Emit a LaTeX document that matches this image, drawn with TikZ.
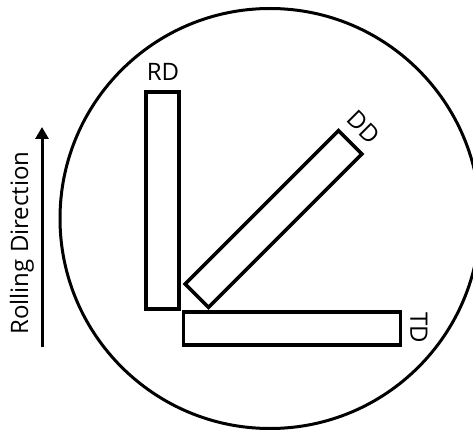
\documentclass[tikz,border=0pt]{standalone}
\usepackage{fontspec}
\setmainfont{Open Sans}
\usetikzlibrary{arrows.meta, positioning}

\begin{document}
\begin{tikzpicture}[
    x=1pt, y=-1pt,
    bar/.style={draw, line width=3.5pt, minimum width=217pt, minimum height=33pt,
                inner sep=0pt},
    lbl/.style={font=\fontsize{24}{28}\selectfont, inner sep=0pt},
    arr/.style={-{Triangle[width=13pt,length=12pt]}, line width=3pt}
]
\useasboundingbox (0,0) rectangle (473,430);
% Sample disc
\node[draw, circle, line width=3pt, minimum size=420pt, inner sep=0pt] (disc) at (270,218.5) {};
% Samples
\node[bar, rotate=90] (rd) at (162.5,200.5) {};
\node[bar, rotate=45] (dd) at (273.5,219) {};
\node[bar] (td) at (292,328.5) {};
% Labels
\node[lbl] (rdl) at (163,72) {RD};
\node[lbl, rotate=-45] (ddl) at (364,127) {DD};
\node[lbl, rotate=-90] (tdl) at (419,328) {TD};
% Rolling direction
\coordinate (a0) at (42,347);
\coordinate (a1) at (42,127);
\draw[arr] (a0) -- (a1);
\node[lbl, rotate=90] (rdir) at (22,243) {Rolling Direction};
\end{tikzpicture}
\end{document}
